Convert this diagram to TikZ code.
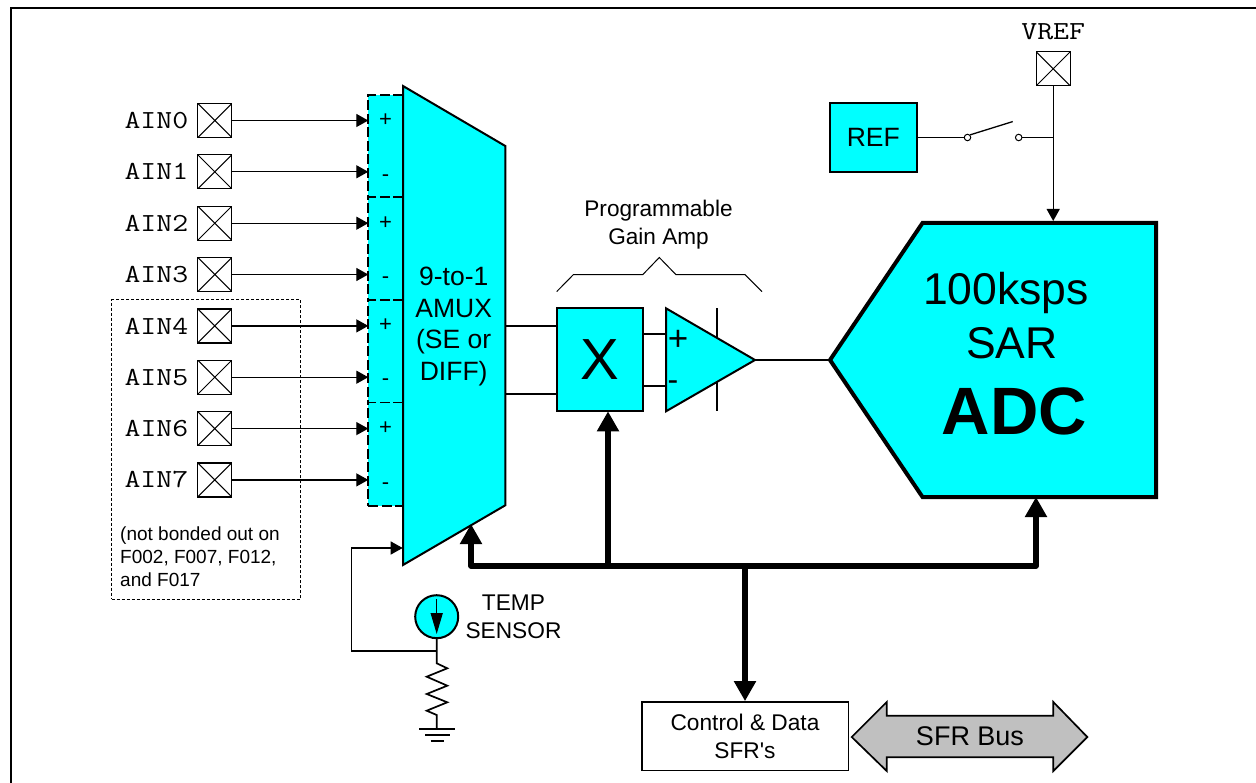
\documentclass[tikz,border=0pt]{standalone}
\usepackage{fontspec}
\usepackage{graphicx}
\setmainfont{Liberation Sans}
\usetikzlibrary{arrows.meta,calc}
\definecolor{cy}{RGB}{0,255,255}
\definecolor{busgray}{RGB}{192,192,192}
\newcommand{\fs}[1]{\fontsize{#1}{#1}\selectfont}
\newcommand{\fsl}[2]{\fontsize{#1}{#2}\selectfont}
\newcommand{\mono}[1]{\scalebox{1.19}[1]{\ttfamily #1}}
\tikzset{
  thinarrow/.style={line width=1.3pt,-{Triangle[length=12pt,width=13pt]}},
  busline/.style={line width=5.5pt,-{Triangle[length=20pt,width=21pt]},line join=round},
  wire/.style={line width=1.7pt},
  pinbox/.style={draw,line width=1.3pt,minimum width=34pt,minimum height=34pt,inner sep=0pt,
    path picture={\draw[line width=1pt] (path picture bounding box.north west)--(path picture bounding box.south east)
      (path picture bounding box.north east)--(path picture bounding box.south west);}},
  pinlabel/.style={inner sep=0pt,font=\fs{26}},
  blockbox/.style={draw,line width=2pt,fill=cy,inner sep=0pt},
  plain/.style={inner sep=0pt,align=center},
  polarity/.style={inner sep=0pt,font=\fs{22}},
  inputdash/.style={line width=1.7pt,dash pattern=on 10pt off 3.5pt},
}
\begin{document}
\begin{tikzpicture}[x=1pt,y=-1pt]
\useasboundingbox (0,0) rectangle (1256,783);
\draw[line width=1.8pt] (11,783) -- (11,8) -- (1256,8);

% note box
\node[draw,dash pattern=on 3pt off 2pt,line width=0.9pt,inner sep=0pt,minimum width=189pt,minimum height=299.3pt] (note) at (206.2,449.6) {};
\node[plain,anchor=west,align=left,font=\fsl{19}{23}] (notetext) at (120,556.5) {(not bonded out on\\F002, F007, F012,\\and F017};

% dashed input boxes
\fill[cy] (368.3,94.7) rectangle (403,506);
\foreach \a/\b in {94.7/197.3,197.3/300,300/402.6,402.6/506}{
  \draw[inputdash] (403,\a) -- (368.3,\a) -- (368.3,\b);
}
\draw[inputdash] (368.3,506) -- (403,506);

% pins
\foreach \i/\y in {0/120.5,1/171.8,2/223.2,3/274.5,4/325.9,5/377.2,6/428.6,7/479.9}{
  \node[pinbox] (pin\i) at (214.8,\y) {};
  \node[pinlabel,anchor=east] (lab\i) at (188.5,\y) {\mono{AIN\i}};
  \coordinate (muxin\i) at (368.3,\y);
  \draw[thinarrow] (pin\i.east) -- (muxin\i);
}
\foreach \i/\y/\s in {a/120/+,b/178/-,c/223.5/+,d/279.7/-,e/325/+,f/382.5/-,g/428/+,h/485.7/-}{
  \node[polarity] (pol\i) at (385.5,\y) {\s};
}

% mux
\draw[line width=2pt,fill=cy,line join=miter] (403,86) -- (505.3,146) -- (505.3,505.3) -- (403,565) -- cycle;
\node[plain,font=\fsl{26.5}{31.7}] (muxlabel) at (453.7,326.5) {9-to-1\\AMUX\\(SE or\\DIFF)};
\coordinate (muxo1) at (505.3,325.7);
\coordinate (muxo2) at (505.3,394);
\coordinate (muxbus) at (471,524);
\coordinate (muxtemp) at (402.7,548);

% PGA
\node[blockbox,minimum width=86pt,minimum height=103pt] (xbox) at (599.7,359.8) {\fs{58}X};
\draw[wire] (muxo1) -- (xbox.west |- muxo1);
\draw[wire] (muxo2) -- (xbox.west |- muxo2);
\draw[wire] (717.3,308.3) -- (717.3,411.3);
\draw[line width=2pt,fill=cy,line join=miter] (666,308.3) coordinate (ampA) -- (755,360) coordinate (amptip) -- (666,411.3) coordinate (ampB) -- cycle;
\coordinate (ampp) at (666,334.3);
\coordinate (ampm) at (666,386);
\draw[wire] (xbox.east |- ampp) -- (ampp);
\draw[wire] (xbox.east |- ampm) -- (ampm);
\node[plain,font=\fs{35}] (ampplus) at (678,340) {+};
\node[plain,font=\fs{32}] (ampminus) at (673,386) {-};
\draw[line width=1pt] (556.7,291.6) -- (573.3,274.7) -- (642.7,274.7) -- (659.3,257.5) -- (676,274.7) -- (745,274.7) -- (762,291.6);
\node[plain,font=\fsl{22.6}{28}] (pgalabel) at (658.5,224.5) {Programmable\\Gain Amp};

% ADC
\draw[line width=4pt,fill=cy,line join=miter] (922.5,223) coordinate (adctl) -- (1156,223) -- (1156,497) -- (922.5,497) -- (830,360) coordinate (adctip) -- cycle;
\node[plain,anchor=base,font=\fs{44.5}] (adc1) at (1006,305) {100ksps};
\node[plain,anchor=base,font=\fs{44.5}] (adc2) at (1012,359) {SAR};
\node[plain,anchor=base,font=\fs{67}\bfseries] (adc3) at (1014.5,435) {ADC};
\draw[wire] (amptip) -- (adctip);

% reference
\node[pinbox] (vref) at (1053.2,68.8) {};
\node[inner sep=0pt,font=\fs{26}] (vreflab) at (1053.2,31.5) {\mono{VREF}};
\node[blockbox,minimum width=86.5pt,minimum height=69pt] (ref) at (873.3,137.5) {\fs{26.5}REF};
\node[draw,circle,line width=1pt,minimum size=6.5pt,inner sep=0pt] (sw1) at (967.5,137.5) {};
\node[draw,circle,line width=1pt,minimum size=6.5pt,inner sep=0pt] (sw2) at (1018.7,137.5) {};
\coordinate (swend) at (1012.7,121.6);
\coordinate (junction) at (1053.2,137.5);
\coordinate (adctop) at (1053.2,221);
\draw[line width=1.3pt] (ref.east) -- (sw1.west);
\draw[line width=1.3pt] (sw1.north east) -- (swend);
\draw[line width=1.3pt] (sw2.east) -- (junction);
\draw[thinarrow] (vref.south) -- (adctop);

% temp sensor
\node[draw,circle,line width=2pt,fill=cy,minimum size=43pt,inner sep=0pt] (temp) at (436.7,616.7) {};
\coordinate (tempA) at (436.7,599);
\coordinate (tempB) at (436.7,634);
\draw[line width=1.5pt,-{Triangle[length=21pt,width=12pt]}] (tempA) -- (tempB);
\node[plain,font=\fsl{22.7}{28}] (templabel) at (513.5,617) {TEMP\\SENSOR};
\coordinate (tap) at (436.7,651);
\coordinate (gnd) at (436.7,729.3);
\draw[line width=1.7pt,line join=miter] (temp.south) -- (436.7,663.3) -- (447.3,668.3) -- (426.7,676.7) -- (447.3,685.7) -- (426.7,694) -- (447.3,702.3) -- (426.7,710.7) -- (436.7,715) -- (gnd);
\draw[line width=1.7pt] (419.3,729.3) -- (455,729.3) (425,735) -- (450,735) (430.7,740.7) -- (444,740.7);
\draw[thinarrow] (tap) -- (351.7,651) -- (351.7,548) -- (muxtemp);

% control
\node[draw,line width=1.6pt,minimum width=206.6pt,minimum height=68.7pt,inner sep=0pt,align=center,font=\fsl{22.7}{28}] (ctrl) at (745,736.3) {Control \& Data\\SFR\textquotesingle s};

% SFR bus
\draw[line width=1.7pt,fill=busgray,line join=miter] (851.7,737) coordinate (busL) -- (886.7,702) -- (886.7,715.7) -- (1053.3,715.7) -- (1053.3,702) -- (1087.3,737) coordinate (busR) -- (1053.3,771) -- (1053.3,757.3) -- (886.7,757.3) -- (886.7,771) -- cycle;
\node[plain,font=\fs{27}] (sfrbus) at (970,736.5) {SFR Bus};

% thick bus
\coordinate (busx) at (608,566);
\coordinate (busc) at (745,566);
\coordinate (adcbus) at (1036,497);
\draw[busline] (busc) -- (471,566) -- (muxbus);
\draw[busline] (busc) -- (1036,566) -- (adcbus);
\draw[busline] (busx) -- (608,411.3);
\draw[busline] (busc) -- (ctrl.north);
\end{tikzpicture}
\end{document}
